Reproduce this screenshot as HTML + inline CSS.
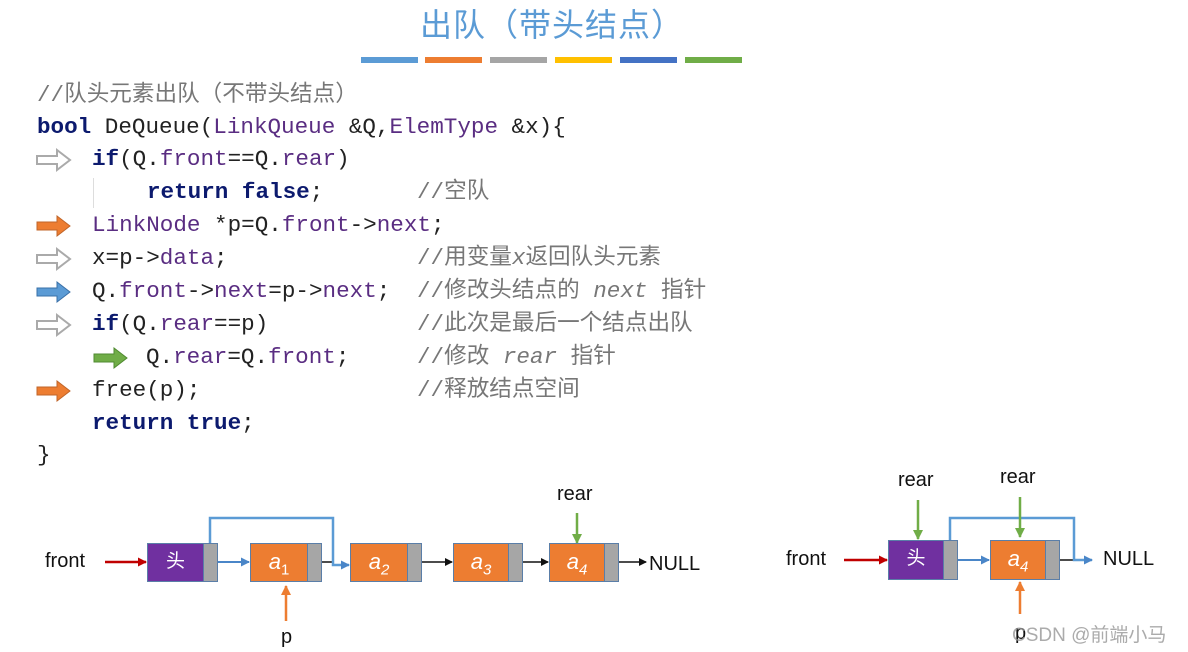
<!DOCTYPE html>
<html><head><meta charset="utf-8"><style>
body{margin:0;width:1188px;height:652px;background:#fff;overflow:hidden;position:relative;font-family:"Liberation Sans","Noto Sans CJK SC",sans-serif}
.t{position:absolute;left:420px;top:0px;font-size:32px;color:#5b9bd5;letter-spacing:1px}
.code{position:absolute;left:0;top:0;font-family:"Liberation Mono","Noto Sans CJK SC",monospace;font-size:22.6px;white-space:pre;color:#222}
.l{position:absolute;height:33px;line-height:33px}
.kw{color:#0c1a6e;font-weight:bold}.pu{color:#5a2d82}.cm{color:#777}
.n{position:absolute;box-sizing:border-box;border:1.5px solid #5a7ea8;text-align:center;color:#fff;font-style:italic;font-size:22px;line-height:36px}
.g{position:absolute;box-sizing:border-box;background:#a6a6a6;border:1.5px solid #5a7ea8}
.lb{position:absolute;font-size:20px;color:#111}
</style></head><body>
<div class="t">出队（带头结点）</div>
<div style="position:absolute;top:57px;left:361px;width:57px;height:6px;background:#5b9bd5"></div>
<div style="position:absolute;top:57px;left:425px;width:57px;height:6px;background:#ed7d31"></div>
<div style="position:absolute;top:57px;left:490px;width:57px;height:6px;background:#a5a5a5"></div>
<div style="position:absolute;top:57px;left:555px;width:57px;height:6px;background:#ffc000"></div>
<div style="position:absolute;top:57px;left:620px;width:57px;height:6px;background:#4472c4"></div>
<div style="position:absolute;top:57px;left:685px;width:57px;height:6px;background:#70ad47"></div>
<div class="code">
<div class="l cm" style="left:37px;top:79px">//队头元素出队（不带头结点）</div>
<div class="l" style="left:37px;top:111px"><span class="kw">bool</span> DeQueue(<span class="pu">LinkQueue</span> &amp;Q,<span class="pu">ElemType</span> &amp;x){</div>
<div class="l" style="left:92px;top:143px"><span class="kw">if</span>(Q.<span class="pu">front</span>==Q.<span class="pu">rear</span>)</div>
<div class="l" style="left:147px;top:176px"><span class="kw">return false</span>;</div>
<div class="l cm" style="left:417px;top:176px">//空队</div>
<div class="l" style="left:92px;top:209px"><span class="pu">LinkNode</span> *p=Q.<span class="pu">front</span>-&gt;<span class="pu">next</span>;</div>
<div class="l" style="left:92px;top:242px">x=p-&gt;<span class="pu">data</span>;</div>
<div class="l cm" style="left:417px;top:242px">//用变量<i>x</i>返回队头元素</div>
<div class="l" style="left:92px;top:275px">Q.<span class="pu">front</span>-&gt;<span class="pu">next</span>=p-&gt;<span class="pu">next</span>;</div>
<div class="l cm" style="left:417px;top:275px">//修改头结点的 <i>next</i> 指针</div>
<div class="l" style="left:92px;top:308px"><span class="kw">if</span>(Q.<span class="pu">rear</span>==p)</div>
<div class="l cm" style="left:417px;top:308px">//此次是最后一个结点出队</div>
<div class="l" style="left:146px;top:341px">Q.<span class="pu">rear</span>=Q.<span class="pu">front</span>;</div>
<div class="l cm" style="left:417px;top:341px">//修改 <i>rear</i> 指针</div>
<div class="l" style="left:92px;top:374px">free(p);</div>
<div class="l cm" style="left:417px;top:374px">//释放结点空间</div>
<div class="l" style="left:92px;top:407px"><span class="kw">return true</span>;</div>
<div class="l" style="left:37px;top:439px">}</div>
</div>
<div style="position:absolute;left:93px;top:178px;width:1px;height:30px;background:#ddd"></div>
<svg width="1188" height="652" style="position:absolute;left:0;top:0">
<defs>
<marker id="ab" markerWidth="8" markerHeight="8" refX="7" refY="4" orient="auto" markerUnits="userSpaceOnUse"><path d="M0,0L8,4L0,8z" fill="#111"/></marker>
<marker id="abl" markerWidth="9" markerHeight="9" refX="8" refY="4.5" orient="auto" markerUnits="userSpaceOnUse"><path d="M0,0L9,4.5L0,9z" fill="#4a86c8"/></marker>
<marker id="ar" markerWidth="9" markerHeight="9" refX="8" refY="4.5" orient="auto" markerUnits="userSpaceOnUse"><path d="M0,0L9,4.5L0,9z" fill="#c00000"/></marker>
<marker id="ao" markerWidth="10" markerHeight="10" refX="9" refY="5" orient="auto" markerUnits="userSpaceOnUse"><path d="M0,0L10,5L0,10z" fill="#ed7d31"/></marker>
<marker id="ag" markerWidth="10" markerHeight="10" refX="9" refY="5" orient="auto" markerUnits="userSpaceOnUse"><path d="M0,0L10,5L0,10z" fill="#70ad47"/></marker>
</defs>
<!-- code arrows -->
<path d="M37,156h20v-6l13,10l-13,10v-6h-20z" fill="#fff" stroke="#aaa" stroke-width="2"/>
<path d="M37,222h20v-6l13,10l-13,10v-6h-20z" fill="#ed7d31" stroke="#c0652a" stroke-width="1"/>
<path d="M37,255h20v-6l13,10l-13,10v-6h-20z" fill="#fff" stroke="#aaa" stroke-width="2"/>
<path d="M37,288h20v-6l13,10l-13,10v-6h-20z" fill="#5b9bd5" stroke="#3a70a8" stroke-width="1"/>
<path d="M37,321h20v-6l13,10l-13,10v-6h-20z" fill="#fff" stroke="#aaa" stroke-width="2"/>
<path d="M94,354h20v-6l13,10l-13,10v-6h-20z" fill="#70ad47" stroke="#4f8a30" stroke-width="1"/>
<path d="M37,387h20v-6l13,10l-13,10v-6h-20z" fill="#ed7d31" stroke="#c0652a" stroke-width="1"/>
<!-- diagram 1 -->
<line x1="105" y1="562" x2="146" y2="562" stroke="#c00000" stroke-width="2.5" marker-end="url(#ar)"/>
<line x1="218" y1="562" x2="249" y2="562" stroke="#4a86c8" stroke-width="2" marker-end="url(#abl)"/>
<line x1="321" y1="562" x2="333" y2="562" stroke="#111" stroke-width="1.5"/>
<path d="M210,543V518H333V565H349" fill="none" stroke="#5b9bd5" stroke-width="2.5" marker-end="url(#abl)"/>
<line x1="421" y1="562" x2="452" y2="562" stroke="#111" stroke-width="1.5" marker-end="url(#ab)"/>
<line x1="523" y1="562" x2="548" y2="562" stroke="#111" stroke-width="1.5" marker-end="url(#ab)"/>
<line x1="619" y1="562" x2="646" y2="562" stroke="#111" stroke-width="1.5" marker-end="url(#ab)"/>
<line x1="286" y1="621" x2="286" y2="586" stroke="#ed7d31" stroke-width="2.5" marker-end="url(#ao)"/>
<line x1="577" y1="513" x2="577" y2="543" stroke="#70ad47" stroke-width="2.5" marker-end="url(#ag)"/>
<!-- diagram 2 -->
<line x1="844" y1="560" x2="887" y2="560" stroke="#c00000" stroke-width="2.5" marker-end="url(#ar)"/>
<line x1="958" y1="560" x2="989" y2="560" stroke="#4a86c8" stroke-width="2" marker-end="url(#abl)"/>
<line x1="1060" y1="560" x2="1075" y2="560" stroke="#111" stroke-width="1.5"/>
<path d="M950,541V518H1074V560H1092" fill="none" stroke="#5b9bd5" stroke-width="2.5" marker-end="url(#abl)"/>
<line x1="918" y1="500" x2="918" y2="539" stroke="#70ad47" stroke-width="2.5" marker-end="url(#ag)"/>
<line x1="1020" y1="497" x2="1020" y2="537" stroke="#70ad47" stroke-width="2.5" marker-end="url(#ag)"/>
<line x1="1020" y1="614" x2="1020" y2="582" stroke="#ed7d31" stroke-width="2.5" marker-end="url(#ao)"/>
</svg>
<div class="n" style="left:147px;top:543px;width:57px;height:39px;background:#7030a0;font-style:normal;font-size:19px">头</div><div class="g" style="left:203px;top:543px;width:15px;height:39px"></div>
<div class="n" style="left:250px;top:543px;width:58px;height:39px;background:#ed7d31">a<sub style="font-style:normal;font-size:15px">1</sub></div><div class="g" style="left:307px;top:543px;width:15px;height:39px"></div>
<div class="n" style="left:350px;top:543px;width:58px;height:39px;background:#ed7d31">a<sub style="font-size:15px">2</sub></div><div class="g" style="left:407px;top:543px;width:15px;height:39px"></div>
<div class="n" style="left:453px;top:543px;width:56px;height:39px;background:#ed7d31">a<sub style="font-size:15px">3</sub></div><div class="g" style="left:508px;top:543px;width:15px;height:39px"></div>
<div class="n" style="left:549px;top:543px;width:56px;height:39px;background:#ed7d31">a<sub style="font-size:15px">4</sub></div><div class="g" style="left:604px;top:543px;width:15px;height:39px"></div>
<div class="lb" style="left:45px;top:550px">front</div>
<div class="lb" style="left:649px;top:553px">NULL</div>
<div class="lb" style="left:557px;top:483px">rear</div>
<div class="lb" style="left:281px;top:626px">p</div>
<div class="n" style="left:888px;top:540px;width:56px;height:40px;background:#7030a0;font-style:normal;font-size:19px">头</div><div class="g" style="left:943px;top:540px;width:15px;height:40px"></div>
<div class="n" style="left:990px;top:540px;width:56px;height:40px;background:#ed7d31">a<sub style="font-size:15px">4</sub></div><div class="g" style="left:1045px;top:540px;width:15px;height:40px"></div>
<div class="lb" style="left:786px;top:548px">front</div>
<div class="lb" style="left:1103px;top:548px">NULL</div>
<div class="lb" style="left:898px;top:469px">rear</div>
<div class="lb" style="left:1000px;top:466px">rear</div>
<div class="lb" style="left:1015px;top:622px">p</div>
<div style="position:absolute;left:1012px;top:620px;font-size:19px;color:rgba(150,150,150,0.8)">CSDN @前端小马</div>
</body></html>
